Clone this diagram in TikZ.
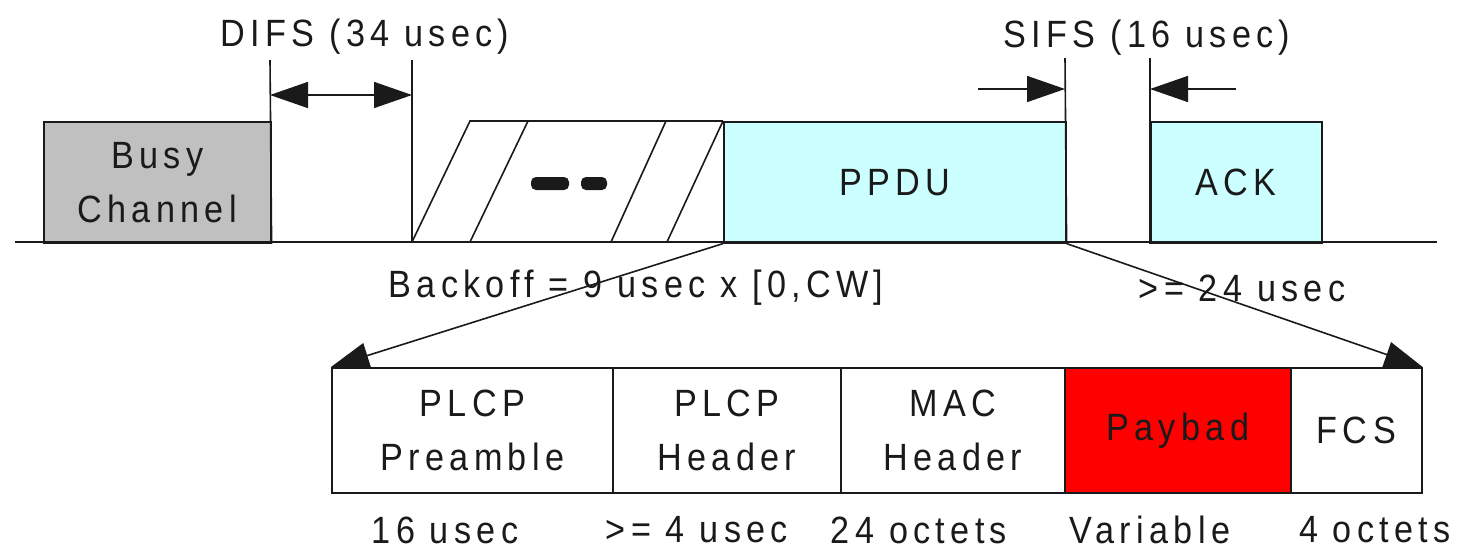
\documentclass[tikz,border=0pt]{standalone}
\usepackage{fontspec}
\setmainfont{Liberation Sans}[LetterSpace=14, FakeStretch=0.9]
\usetikzlibrary{arrows.meta}
\definecolor{busygray}{HTML}{C0C0C0}
\definecolor{cyanfill}{HTML}{CCFFFF}
\definecolor{payred}{HTML}{FF0000}
\definecolor{inkc}{HTML}{1A1A1A}
\tikzset{
  lbl/.style={font=\fontsize{38}{54}\selectfont, text=inkc, align=center, inner sep=0pt},
  seg/.style={lbl, draw=inkc, line width=1.6pt, minimum height=121pt, anchor=north west},
  fld/.style={lbl, draw=inkc, line width=1.6pt, minimum height=125pt, anchor=north west, fill=white},
  ln/.style={draw=inkc, line width=1.6pt},
  tip/.style={-{Triangle[length=38pt,width=26pt]}},
  dtip/.style={{Triangle[length=38pt,width=26pt]}-{Triangle[length=38pt,width=26pt]}}
}
\begin{document}
\begin{tikzpicture}[x=1pt,y=-1pt]
\useasboundingbox (0,0) rectangle (1459,552);
% timeline boxes
\node[seg, fill=busygray, minimum width=227pt] (busy) at (43,121) {Busy\\Channel};
\node[seg, fill=cyanfill, minimum width=342pt] (ppdu) at (723,121) {PPDU};
\node[seg, fill=cyanfill, minimum width=171pt] (ack) at (1150,121) {ACK};
% baseline
\coordinate (L) at (15,242);
\coordinate (R) at (1437,242);
\draw[ln] (L) -- (R);
% DIFS
\coordinate (d1) at (270,60);
\coordinate (b0) at (412,242);
\coordinate (d2) at (412,60);
\draw[ln] (busy.south east) -- (d1);
\draw[ln] (b0) -- (d2);
\coordinate (da) at (270,95);
\coordinate (db) at (412,95);
\draw[ln, dtip] (da) -- (db);
\node[lbl] (difs) at (365,37) {DIFS (34 usec)};
% backoff hatched region
\coordinate (bt) at (470,121);
\draw[ln] (b0) -- (bt) -- (ppdu.north west);
\coordinate (h1a) at (470,242); \coordinate (h1b) at (528,121);
\coordinate (h2a) at (611,242); \coordinate (h2b) at (666,121);
\coordinate (h3a) at (667,242); \coordinate (h3b) at (ppdu.north west);
\draw[ln] (h1a) -- (h1b);
\draw[ln] (h2a) -- (h2b);
\draw[ln] (h3a) -- (h3b);
\fill[inkc, rounded corners=5pt] (531,177) rectangle (569,190);
\fill[inkc, rounded corners=5pt] (581,177) rectangle (607,190);
% SIFS
\coordinate (s1) at (1065,58);
\coordinate (s2) at (1150,58);
\draw[ln] (ppdu.south east) -- (s1);
\draw[ln] (ack.south west) -- (s2);
\coordinate (sa) at (978,89); \coordinate (sb) at (1065,89);
\coordinate (sc) at (1236,89); \coordinate (sd) at (1150,89);
\draw[ln, tip] (sa) -- (sb);
\draw[ln, tip] (sc) -- (sd);
\node[lbl] (sifs) at (1147,38) {SIFS (16 usec)};
% frame fields
\node[fld, minimum width=281pt] (pre) at (331,367) {PLCP\\Preamble};
\node[fld, minimum width=228pt] (phdr) at (612,367) {PLCP\\Header};
\node[fld, minimum width=224pt] (mac) at (840,367) {MAC\\Header};
\node[fld, fill=payred, minimum width=226pt] (pay) at (1064,367) {Paybad};
\node[fld, minimum width=131pt] (fcs) at (1290,367) {FCS};
% labels
\node[lbl] (bo) at (636,288) {Backoff = 9 usec x [0,CW]};
\node[lbl] (g24) at (1242,288) {>= 24 usec};
\node[lbl] (l1) at (445,530) {16 usec};
\node[lbl] (l2) at (697,530) {>= 4 usec};
\node[lbl] (l3) at (919,530) {24 octets};
\node[lbl] (l4) at (1150,530) {Variable};
\node[lbl] (l5) at (1375,530) {4 octets};
% expansion arrows
\draw[ln, tip] (ppdu.south west) -- (pre.north west);
\draw[ln, tip] (ppdu.south east) -- (fcs.north east);
\end{tikzpicture}
\end{document}
